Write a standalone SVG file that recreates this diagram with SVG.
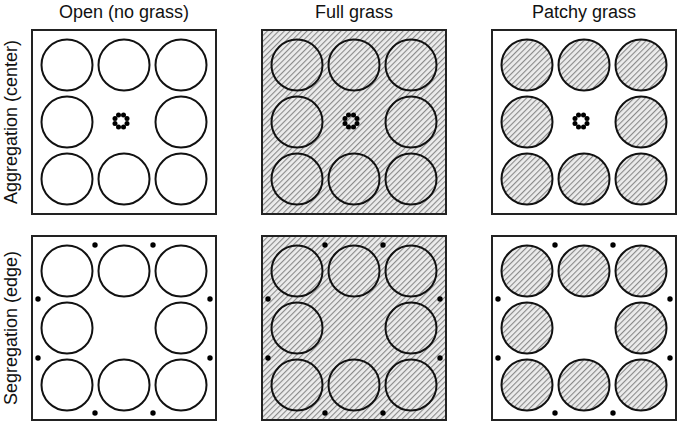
<svg xmlns="http://www.w3.org/2000/svg" xmlns:xlink="http://www.w3.org/1999/xlink" width="682" height="426" viewBox="0 0 682 426">
  <style>
    .title { font-family: "Liberation Sans", Arial, sans-serif; font-size: 18px; fill: #111; text-anchor: middle; }
    .frame { stroke: #222; stroke-width: 2; }
    .open { fill: #ffffff; }
    .grass { fill: url(#hatch); }
    .ring circle, .dots circle { fill: #000; }
  </style>
  <defs>
    <pattern id="hatch" patternUnits="userSpaceOnUse" width="4" height="4" patternTransform="rotate(45)">
      <rect x="0" y="0" width="4" height="4" fill="#ececec"/>
      <line x1="0.6" y1="0" x2="0.6" y2="4" stroke="#808080" stroke-width="1"/>
    </pattern>
    <g id="patches" stroke="#111" stroke-width="2">
      <circle cx="35" cy="35" r="25.5"/>
      <circle cx="92" cy="35" r="25.5"/>
      <circle cx="149" cy="35" r="25.5"/>
      <circle cx="35" cy="92" r="25.5"/>
      <circle cx="149" cy="92" r="25.5"/>
      <circle cx="35" cy="149" r="25.5"/>
      <circle cx="92" cy="149" r="25.5"/>
      <circle cx="149" cy="149" r="25.5"/>
    </g>
    <g id="cluster" class="ring">
      <circle cx="6" cy="2.5" r="2.5"/>
      <circle cx="2.5" cy="6" r="2.5"/>
      <circle cx="-2.5" cy="6" r="2.5"/>
      <circle cx="-6" cy="2.5" r="2.5"/>
      <circle cx="-6" cy="-2.5" r="2.5"/>
      <circle cx="-2.5" cy="-6" r="2.5"/>
      <circle cx="2.5" cy="-6" r="2.5"/>
      <circle cx="6" cy="-2.5" r="2.5"/>
    </g>
    <g id="edgeDots" class="dots">
      <circle cx="63" cy="9" r="2.7"/>
      <circle cx="121" cy="9" r="2.7"/>
      <circle cx="63" cy="177" r="2.7"/>
      <circle cx="121" cy="177" r="2.7"/>
      <circle cx="6" cy="63" r="2.7"/>
      <circle cx="6" cy="122" r="2.7"/>
      <circle cx="178" cy="63" r="2.7"/>
      <circle cx="178" cy="122" r="2.7"/>
    </g>
  </defs>

  <g id="labels">
    <text class="title" x="124" y="18">Open (no grass)</text>
    <text class="title" x="354" y="18">Full grass</text>
    <text class="title" x="584" y="18">Patchy grass</text>
    <text class="title" transform="translate(17,122) rotate(-90)">Aggregation (center)</text>
    <text class="title" transform="translate(17,328) rotate(-90)">Segregation (edge)</text>
  </g>

  <g id="open-aggregation" transform="translate(32,30)">
    <rect class="frame open" x="0" y="0" width="184" height="184"/>
    <use xlink:href="#patches" href="#patches" fill="#ffffff"/>
    <use xlink:href="#cluster" href="#cluster" transform="translate(89,91)"/>
  </g>

  <g id="full-aggregation" transform="translate(262,30)">
    <rect class="frame grass" x="0" y="0" width="184" height="184"/>
    <use xlink:href="#patches" href="#patches" fill="url(#hatch)"/>
    <use xlink:href="#cluster" href="#cluster" transform="translate(89,91)"/>
  </g>

  <g id="patchy-aggregation" transform="translate(492,30)">
    <rect class="frame open" x="0" y="0" width="184" height="184"/>
    <use xlink:href="#patches" href="#patches" fill="url(#hatch)"/>
    <use xlink:href="#cluster" href="#cluster" transform="translate(89,91)"/>
  </g>

  <g id="open-segregation" transform="translate(32,236)">
    <rect class="frame open" x="0" y="0" width="184" height="184"/>
    <use xlink:href="#patches" href="#patches" fill="#ffffff"/>
    <use xlink:href="#edgeDots" href="#edgeDots"/>
  </g>

  <g id="full-segregation" transform="translate(262,236)">
    <rect class="frame grass" x="0" y="0" width="184" height="184"/>
    <use xlink:href="#patches" href="#patches" fill="url(#hatch)"/>
    <use xlink:href="#edgeDots" href="#edgeDots"/>
  </g>

  <g id="patchy-segregation" transform="translate(492,236)">
    <rect class="frame open" x="0" y="0" width="184" height="184"/>
    <use xlink:href="#patches" href="#patches" fill="url(#hatch)"/>
    <use xlink:href="#edgeDots" href="#edgeDots"/>
  </g>

  <g id="connectors"></g>
</svg>
